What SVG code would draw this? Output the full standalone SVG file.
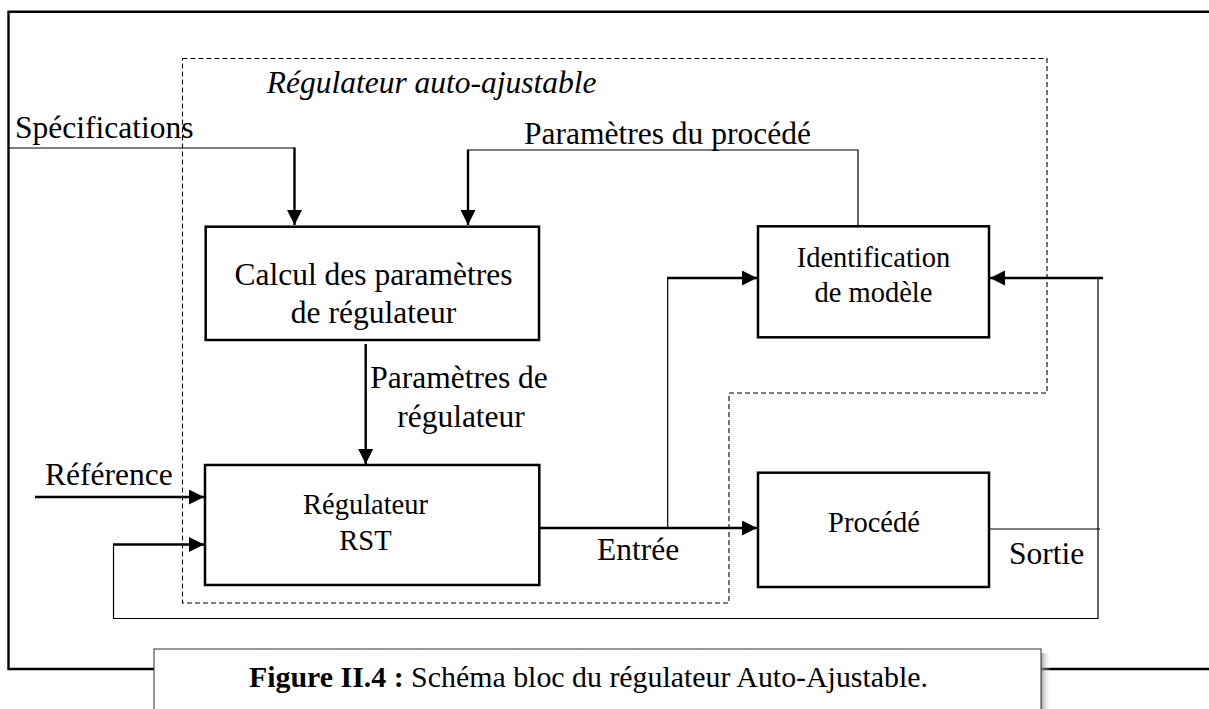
<svg xmlns="http://www.w3.org/2000/svg" width="1209" height="709" viewBox="0 0 1209 709">
<style>
text{font-family:"Liberation Serif","Times New Roman",serif;fill:#000}
.lbl{font-size:31.5px}
.box{font-size:28.5px}
.node rect{fill:#fff;stroke:#000;stroke-width:2.5}
.thin{fill:none;stroke:#000;stroke-width:1.2}
.thick{fill:none;stroke:#000;stroke-width:2.4}
</style>
<defs>
<marker id="ah" markerUnits="userSpaceOnUse" markerWidth="16" markerHeight="16" refX="15" refY="7.5" orient="auto" viewBox="0 0 16 16">
<path d="M0,0 L15,7.5 L0,15 z" fill="#000"/>
</marker>
<linearGradient id="sh" x1="0" y1="0" x2="1" y2="0">
<stop offset="0" stop-color="#888" stop-opacity="0.8"/>
<stop offset="1" stop-color="#fff" stop-opacity="0"/>
</linearGradient>
</defs>
<rect width="1209" height="709" fill="#fff"/>

<!-- outer frame -->
<g id="frame">
<path class="thick" d="M1209,11.7 L8.5,11.7 L8.5,669 L154,669"/>
<path class="thick" d="M1041,669 L1209,669"/>
</g>

<!-- dashed self-tuning regulator boundary -->
<g id="boundary">
<path d="M182.5,58.5 L1047,58.5 L1047,393 L729,393 L729,603 L182.5,603 Z" fill="none" stroke="#000" stroke-width="1.1" stroke-dasharray="5,3"/>
<text x="266.7" y="93.3" class="lbl" font-style="italic">Régulateur auto-ajustable</text>
</g>

<!-- connectors -->
<g id="connectors">
<path class="thin" d="M9,148 L294.5,148"/>
<path class="thick" d="M294.5,147.5 L294.5,225" marker-end="url(#ah)"/>
<path class="thin" d="M858,226 L858,150 L468,150"/>
<path class="thick" d="M468,149.5 L468,225" marker-end="url(#ah)"/>
<path class="thick" d="M365.7,344 L365.7,464" marker-end="url(#ah)"/>
<path class="thick" d="M35,497 L204,497" marker-end="url(#ah)"/>
<path class="thin" d="M1098,278 L1098,618.5 L113.5,618.5 L113.5,544.5"/>
<path class="thick" d="M113,544.5 L204,544.5" marker-end="url(#ah)"/>
<path class="thick" d="M539,528 L757,528" marker-end="url(#ah)"/>
<path class="thin" d="M667.7,528 L667.7,278"/>
<path class="thick" d="M667,278 L757,278" marker-end="url(#ah)"/>
<path class="thin" d="M989,529 L1100,529"/>
<path class="thick" d="M1103,278 L990,278" marker-end="url(#ah)"/>
<text x="15" y="138.3" class="lbl">Spécifications</text>
<text x="524" y="144" class="lbl">Paramètres du procédé</text>
<text x="459" y="388" class="lbl" text-anchor="middle">Paramètres de</text>
<text x="461" y="427" class="lbl" text-anchor="middle">régulateur</text>
<text x="45" y="485" class="lbl">Référence</text>
<text x="597" y="560" class="lbl">Entrée</text>
<text x="1009" y="564" class="lbl">Sortie</text>
</g>

<g id="calcul" class="node">
<rect x="205.7" y="226.7" width="333.3" height="113.3"/>
<text x="373.5" y="285" class="lbl" text-anchor="middle">Calcul des paramètres</text>
<text x="373.5" y="323" class="lbl" text-anchor="middle">de régulateur</text>
</g>

<g id="identification" class="node">
<rect x="758" y="226.3" width="231" height="111"/>
<text x="873.5" y="266.7" class="box" text-anchor="middle">Identification</text>
<text x="873.5" y="301.7" class="box" text-anchor="middle">de modèle</text>
</g>

<g id="rst" class="node">
<rect x="205" y="465" width="334.3" height="120"/>
<text x="365.5" y="514" class="box" text-anchor="middle">Régulateur</text>
<text x="365.5" y="550" class="box" text-anchor="middle">RST</text>
</g>

<g id="procede" class="node">
<rect x="758" y="472.7" width="231" height="114.3"/>
<text x="874" y="532" class="box" text-anchor="middle">Procédé</text>
</g>

<!-- caption -->
<g id="caption">
<rect x="1041" y="653" width="10" height="60" fill="url(#sh)"/>
<rect x="154" y="649" width="887" height="70" fill="#fff" stroke="#333" stroke-width="1"/>
<text x="249" y="687" font-size="29px" textLength="679" lengthAdjust="spacingAndGlyphs"><tspan font-weight="bold">Figure II.4 :</tspan> Schéma bloc du régulateur Auto-Ajustable.</text>
</g>
</svg>
